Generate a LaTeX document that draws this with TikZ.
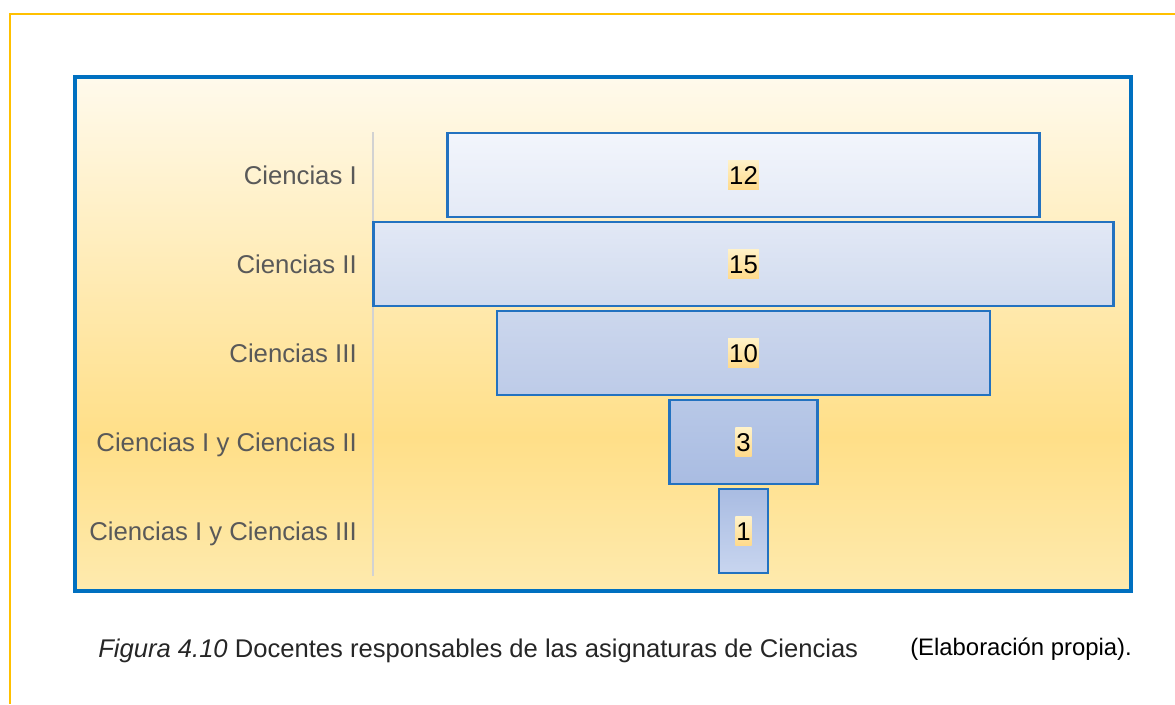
\documentclass[tikz,border=0pt]{standalone}
\usepackage{fontspec}
\setmainfont{Liberation Sans}
\usepackage{tikz}
\usetikzlibrary{positioning,shadings}

\definecolor{frameYellow}{HTML}{FFC000}
\definecolor{chartBlue}{HTML}{0070C0}
\definecolor{barLine}{HTML}{2372C0}
\definecolor{bgtop}{HTML}{FFFAEC}
\definecolor{bgmid}{HTML}{FFDF88}
\definecolor{bgbot}{HTML}{FEEAAE}
\definecolor{hlTop}{HTML}{FFF2C8}
\definecolor{hlBot}{HTML}{FFDA8A}
\definecolor{catGray}{HTML}{595959}
\definecolor{capGray}{HTML}{262626}
\definecolor{barA}{HTML}{F2F5FC}
\definecolor{barB}{HTML}{E4EAF6}
\definecolor{barC}{HTML}{E2E8F5}
\definecolor{barD}{HTML}{D0DBEF}
\definecolor{barE}{HTML}{CCD7ED}
\definecolor{barF}{HTML}{BDCBE8}
\definecolor{barG}{HTML}{B8C8E7}
\definecolor{barH}{HTML}{A9BCE2}
\definecolor{barI}{HTML}{C8D5EF}

\pgfdeclareverticalshading{chartfill}{100bp}{
  color(0bp)=(bgbot); color(25bp)=(bgbot); color(40bp)=(bgmid);
  color(75bp)=(bgtop); color(100bp)=(bgtop)
}

\tikzset{
  every node/.style={
    font=\fontsize{19.3pt}{23pt}\selectfont
  },
  bar/.style n args={3}{
    shape=rectangle,
    minimum width=#1,
    minimum height=63pt,
    draw=barLine,
    line width=1.8pt,
    top color=#2,
    bottom color=#3
  },
  val/.style={
    shape=rectangle,
    top color=hlTop,
    bottom color=hlBot,
    text=black,
    text height=13.8pt,
    text depth=0pt,
    inner xsep=0.75pt,
    inner ysep=4pt
  },
  cat/.style={
    anchor=base east,
    text=catGray,
    inner sep=0pt
  },
  caption/.style={
    anchor=base west,
    inner sep=0pt
  }
}

\begin{document}
\begin{tikzpicture}[x=0.75pt,y=-0.75pt]
    \useasboundingbox (0,0) rectangle (1175,704);
    % outer page frame
    \draw[frameYellow, line width=1.5pt] (1175,14) -- (10,14) -- (10,704);
    % chart area
    \shade[shading=chartfill] (75,77) rectangle (1130.5,591);
    \draw[chartBlue, line width=3pt] (75,77) rectangle (1130.5,591);
    \draw[gray!35, line width=1pt] (373,132) -- (373,576);

    % funnel bars
    \node [bar={444pt}{barA}{barB}] (bar1) at (743.5,175) {};
    \node [bar={555pt}{barC}{barD}, below=2pt of bar1] (bar2) {};
    \node [bar={370pt}{barE}{barF}, below=2pt of bar2] (bar3) {};
    \node [bar={111pt}{barG}{barH}, below=2pt of bar3] (bar4) {};
    \node [bar={37pt}{barH}{barI}, below=2pt of bar4] (bar5) {};

    \node [val] (v1) at (bar1) {12};
    \node [val] (v2) at (bar2) {15};
    \node [val] (v3) at (bar3) {10};
    \node [val] (v4) at (bar4) {3};
    \node [val] (v5) at (bar5) {1};

    % category names
    \node [cat] (c1) at ([yshift=-7pt]bar1.center -| 357,0) {Ciencias I};
    \node [cat] (c2) at ([yshift=-7pt]bar2.center -| 357,0) {Ciencias II};
    \node [cat] (c3) at ([yshift=-7pt]bar3.center -| 357,0) {Ciencias III};
    \node [cat] (c4) at ([yshift=-7pt]bar4.center -| 357,0) {Ciencias I y Ciencias II};
    \node [cat] (c5) at ([yshift=-7pt]bar5.center -| 357,0) {Ciencias I y Ciencias III};

    % caption
    \node [caption, text=capGray, font=\fontsize{19.2pt}{23pt}\selectfont] (fig) at (98,657)
      {\textit{Figura 4.10} Docentes responsables de las asignaturas de Ciencias};
    \node [caption, text=black, font=\fontsize{17.9pt}{21pt}\selectfont] (src) at (910,655)
      {(Elaboración propia).};
  \end{tikzpicture}
\end{document}
